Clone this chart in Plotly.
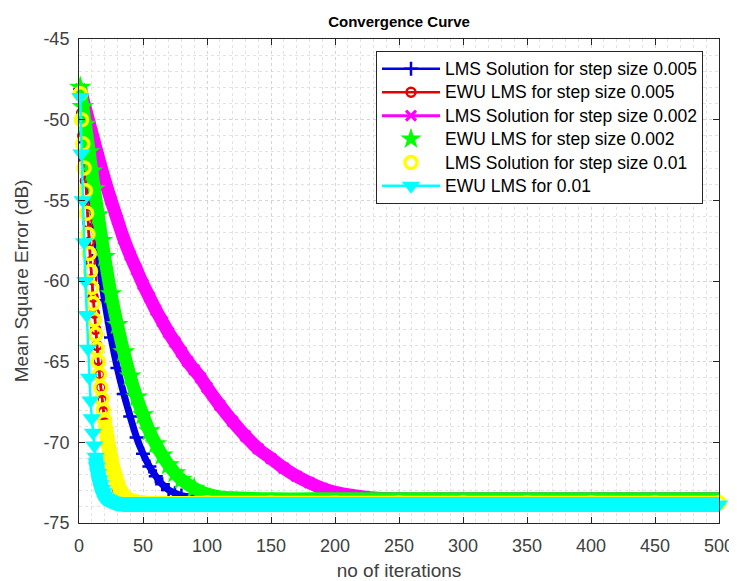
import plotly.graph_objects as go

# ---------------- data ----------------
x_tick_vals = [0, 50, 100, 150, 200, 250, 300, 350, 400, 450, 500]
x_tick_text = ["0", "50", "100", "150", "200", "250", "300", "350", "400", "450", "500"]
y_tick_vals = [-75, -70, -65, -60, -55, -50, -45]
y_tick_text = ["-75", "-70", "-65", "-60", "-55", "-50", "-45"]

series_names = [
    "LMS Solution for step size 0.005",
    "EWU LMS for step size 0.005",
    "LMS Solution for step size 0.002",
    "EWU LMS for step size 0.002",
    "LMS Solution for step size 0.01",
    "EWU LMS for 0.01",
]

blue_iter = [1, 3, 5, 8, 10, 12, 15, 18, 20, 25, 30, 35, 40, 45, 50, 55, 60, 65, 70, 75, 80, 90,
             100, 150, 200, 250, 300, 350, 400, 450, 500]
blue_mse = [-48.1, -49.8, -51.4, -53.7, -55.1, -56.5, -58.4, -60.2, -61.2, -63.5, -65.4, -67.0,
            -68.4, -69.7, -70.7, -71.5, -72.1, -72.6, -72.95, -73.15, -73.3, -73.4,
            -73.45, -73.45, -73.45, -73.45, -73.45, -73.45, -73.45, -73.45, -73.45]

red_iter = [1, 2, 3, 4, 5, 6, 7, 8, 9, 10, 11, 12, 13, 14, 15, 16, 17, 18, 19, 20, 21, 22, 23,
            24, 25, 26, 27, 28, 30, 32, 35, 40, 60, 100, 200, 300, 400, 500]
red_mse = [-48.2, -49.6, -51.0, -52.4, -53.8, -55.1, -56.4, -57.6, -58.8, -59.9, -61.0, -62.0,
           -63.0, -64.0, -64.9, -65.8, -66.6, -67.4, -68.1, -68.8, -69.4, -70.0, -70.5, -71.0,
           -71.4, -71.8, -72.1, -72.4, -72.9, -73.2, -73.4, -73.55, -73.6, -73.6, -73.6,
           -73.6, -73.6, -73.6]

mag_iter = [1, 5, 10, 15, 20, 25, 30, 35, 40, 45, 50, 55, 60, 65, 70, 75, 80, 85, 90, 95, 100,
            110, 120, 130, 140, 150, 160, 170, 180, 190, 200, 215, 230, 250, 300, 350, 400,
            450, 500]
mag_mse = [-48.1, -49.3, -50.8, -52.3, -53.7, -55.0, -56.2, -57.4, -58.4, -59.3, -60.2, -61.0,
           -61.8, -62.5, -63.2, -63.8, -64.4, -65.0, -65.5, -66.0, -66.6, -67.7, -68.7, -69.6,
           -70.4, -71.0, -71.6, -72.1, -72.5, -72.85, -73.1, -73.3, -73.45, -73.5, -73.5,
           -73.5, -73.5, -73.5, -73.5]

green_iter = [1, 3, 5, 8, 10, 12, 15, 18, 20, 25, 30, 35, 40, 45, 50, 55, 60, 65, 70, 75, 80,
              90, 100, 110, 125, 150, 200, 250, 300, 350, 400, 450, 500]
green_mse = [-48.0, -49.2, -50.3, -52.0, -53.2, -54.3, -55.9, -57.5, -58.5, -60.8, -62.7, -64.4,
             -65.9, -67.2, -68.3, -69.3, -70.1, -70.8, -71.4, -71.9, -72.3, -72.85, -73.2,
             -73.38, -73.45, -73.5, -73.5, -73.5, -73.5, -73.5, -73.5, -73.5, -73.5]

yellow_iter = [1, 2, 3, 4, 5, 6, 7, 8, 9, 10, 11, 12, 13, 14, 15, 16, 17, 18, 19, 20, 21, 22,
               23, 24, 25, 26, 27, 28, 29, 30, 32, 34, 37, 40, 45, 50, 100, 150, 200, 250, 300,
               350, 400, 450, 500]
yellow_mse = [-48.4, -50.0, -51.5, -53.0, -54.4, -55.8, -57.1, -58.3, -59.4, -60.4, -61.4, -62.4,
              -63.3, -64.2, -65.0, -65.8, -66.6, -67.3, -68.0, -68.6, -69.2, -69.7, -70.2,
              -70.6, -71.0, -71.4, -71.7, -72.0, -72.3, -72.5, -72.9, -73.2, -73.45, -73.6,
              -73.7, -73.75, -73.75, -73.75, -73.75, -73.75, -73.75, -73.75, -73.75, -73.75,
              -73.75]

cyan_iter = [1, 2, 3, 4, 5, 6, 7, 8, 9, 10, 11, 12, 13, 14, 15, 16, 17, 18, 19, 20, 22, 24, 27,
             30, 35, 50, 100, 150, 200, 250, 300, 350, 400, 450, 500]
cyan_mse = [-48.6, -52.1, -55.0, -57.6, -60.0, -62.1, -64.2, -66.0, -67.4, -68.5, -69.4, -70.2,
            -70.9, -71.5, -71.9, -72.3, -72.6, -72.9, -73.1, -73.3, -73.5, -73.6, -73.7, -73.8,
            -73.85, -73.85, -73.85, -73.85, -73.85, -73.85, -73.85, -73.85, -73.85, -73.85,
            -73.85]

# ---------------- styles ----------------
BLUE = "#0000e6"
RED = "#e60000"
MAG = "#ff00ff"
GREEN = "#00ff00"
YEL = "#ffff00"
CYAN = "#00ffff"
FONT = "Liberation Sans, Arial, Helvetica, sans-serif"
LEGEND_TEXT_PX = 17.5


def idx_from(iters, first):
    for i, v in enumerate(iters):
        if v >= first:
            return i
    return 0


def idx_upto(iters, last):
    n = 0
    for i, v in enumerate(iters):
        if v <= last:
            n = i + 1
    return n


def leg(name):
    return '<span style="font-size:%spx">%s</span>' % (LEGEND_TEXT_PX, name)


fig = go.Figure()

# blue band + main
fig.add_trace(go.Scatter(x=blue_iter, y=blue_mse, mode="lines", showlegend=False,
                         hoverinfo="skip", line=dict(color=BLUE, width=7, shape="spline")))
bn = idx_upto(blue_iter, 80)
fig.add_trace(go.Scatter(x=blue_iter[:bn], y=blue_mse[:bn], mode="lines+markers",
                         name=leg(series_names[0]),
                         line=dict(color=BLUE, width=2.5),
                         marker=dict(symbol="cross-thin", size=10, color=BLUE,
                                     line=dict(color=BLUE, width=2.5)),
                         cliponaxis=False))
# red
rn = idx_upto(red_iter, 35)
fig.add_trace(go.Scatter(x=red_iter, y=red_mse, mode="lines", showlegend=False,
                         hoverinfo="skip", line=dict(color=RED, width=2.5)))
fig.add_trace(go.Scatter(x=red_iter[:rn], y=red_mse[:rn], mode="lines+markers",
                         name=leg(series_names[1]),
                         line=dict(color=RED, width=2.5),
                         marker=dict(symbol="circle-open", size=9, color=RED,
                                     line=dict(color=RED, width=2.5)),
                         cliponaxis=False))
# magenta band + main
fig.add_trace(go.Scatter(x=mag_iter, y=mag_mse, mode="lines", showlegend=False,
                         hoverinfo="skip", line=dict(color=MAG, width=13, shape="spline")))
mn = idx_upto(mag_iter, 200)
fig.add_trace(go.Scatter(x=mag_iter[:mn], y=mag_mse[:mn], mode="lines+markers",
                         name=leg(series_names[2]),
                         line=dict(color=MAG, width=3),
                         marker=dict(symbol="x-thin", size=10, color=MAG,
                                     line=dict(color=MAG, width=3)),
                         cliponaxis=False))
# green band + markers
fig.add_trace(go.Scatter(x=green_iter, y=green_mse, mode="lines", showlegend=False,
                         hoverinfo="skip", line=dict(color=GREEN, width=13, shape="spline")))
gn = idx_upto(green_iter, 90)
fig.add_trace(go.Scatter(x=green_iter[:gn], y=green_mse[:gn], mode="markers",
                         name=leg(series_names[3]),
                         marker=dict(symbol="star", size=17, color=GREEN,
                                     line=dict(width=0)),
                         cliponaxis=False))
# yellow band (tail) + markers
ys = idx_from(yellow_iter, 20)
fig.add_trace(go.Scatter(x=yellow_iter[ys:], y=yellow_mse[ys:], mode="lines", showlegend=False,
                         hoverinfo="skip", line=dict(color=YEL, width=14, shape="spline")))
fig.add_trace(go.Scatter(x=yellow_iter, y=yellow_mse, mode="markers",
                         name=leg(series_names[4]),
                         marker=dict(symbol="circle-open", size=12, color=YEL,
                                     line=dict(color=YEL, width=3.5)),
                         cliponaxis=False))
# cyan band (tail) + main
cs = idx_from(cyan_iter, 13)
fig.add_trace(go.Scatter(x=cyan_iter[cs:], y=cyan_mse[cs:], mode="lines", showlegend=False,
                         hoverinfo="skip", line=dict(color=CYAN, width=15, shape="spline")))
fig.add_trace(go.Scatter(x=cyan_iter, y=cyan_mse, mode="lines+markers",
                         name=leg(series_names[5]),
                         line=dict(color=CYAN, width=2.5),
                         marker=dict(symbol="triangle-down", size=16, color=CYAN,
                                     line=dict(width=0)),
                         cliponaxis=False))

axis_common = dict(
    ticks="inside", ticklen=6, tickwidth=1, tickcolor="#262626",
    showline=True, linecolor="#262626", linewidth=1, mirror="ticks",
    showgrid=True, gridcolor="#d4d4d4", griddash="dot", gridwidth=1,
    zeroline=False, automargin=False,
    tickfont=dict(family=FONT, size=18, color="#404040"),
)

# the page body adds an 8 px offset, so the figure is 8 px smaller on each side
W, H = 729, 573
fig.update_layout(
    width=W, height=H,
    margin=dict(l=71, r=18, t=31, b=58, autoexpand=False),
    paper_bgcolor="white", plot_bgcolor="white",
    title=dict(text="<b>Convergence Curve</b>", x=0.5, xref="paper", xanchor="center",
               y=1 - 14 / H, yref="container", yanchor="middle",
               font=dict(family=FONT, size=15, color="#000000"), automargin=False),
    xaxis=dict(range=[0, 500], tickmode="array", tickvals=x_tick_vals, ticktext=x_tick_text,
               ticklabelstandoff=6,
               minor=dict(dtick=10, showgrid=True, gridcolor="#e2e2e2", griddash="dot",
                          ticks=""),
               title=dict(text="no of iterations", standoff=9,
                          font=dict(family=FONT, size=19, color="#404040")),
               **axis_common),
    yaxis=dict(range=[-75, -45], tickmode="array", tickvals=y_tick_vals, ticktext=y_tick_text,
               ticklabelstandoff=5,
               minor=dict(dtick=1, showgrid=True, gridcolor="#e2e2e2", griddash="dot",
                          ticks=""),
               title=dict(text="Mean Square Error (dB)", standoff=9,
                          font=dict(family=FONT, size=19, color="#404040")),
               **axis_common),
    legend=dict(x=0.975, y=0.975, xanchor="right", yanchor="top",
                bgcolor="white", bordercolor="#262626", borderwidth=1,
                font=dict(family=FONT, size=15.7, color="#000000"),
                itemwidth=58, tracegroupgap=0),
    showlegend=True,
)

fig.write_html("out.html")
